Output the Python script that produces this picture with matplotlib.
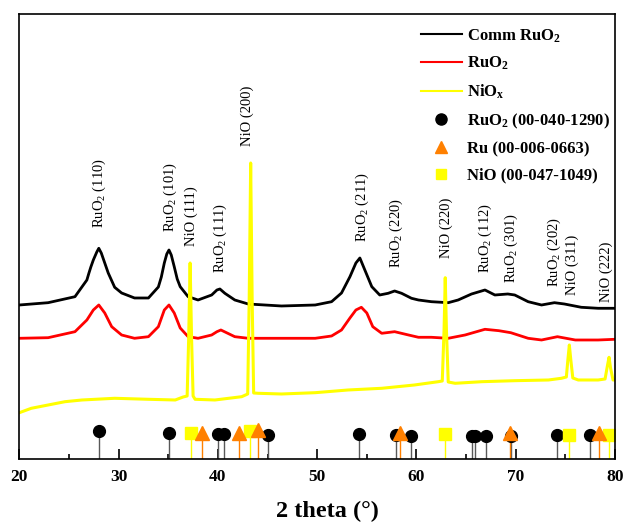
import matplotlib
matplotlib.use("Agg")
import matplotlib.pyplot as plt
from matplotlib.lines import Line2D

plt.rcParams['font.family'] = ['Liberation Serif', 'DejaVu Serif']
plt.rcParams['mathtext.fontset'] = 'custom'
plt.rcParams['mathtext.rm'] = 'Liberation Serif'
plt.rcParams['mathtext.it'] = 'Liberation Serif:italic'
plt.rcParams['mathtext.bf'] = 'Liberation Serif:bold'

# --- measured patterns (2theta, intensity in a.u.) ---
comm_x = [20.0, 22.9, 25.6, 26.8, 27.0, 27.2, 27.45, 27.8, 28.0, 28.25, 28.6, 28.95, 29.6,
          30.3, 31.6, 33.0, 34.0, 34.3, 34.6, 34.85, 35.07, 35.3, 35.6, 35.9, 36.2, 37.0,
          38.0, 39.37, 39.9, 40.2, 40.7, 41.7, 43.05, 46.4, 49.8, 51.45, 52.45, 53.3,
          53.9, 54.3, 54.8, 55.5, 56.3, 57.15, 57.8, 58.5, 59.5, 60.2, 61.5, 63.2, 64.2,
          65.55, 66.9, 67.9, 69.2, 69.9, 71.25, 72.6, 73.9, 74.9, 76.6, 78.3, 80.0]
comm_y = [154, 156.3, 162.3, 179, 185.7, 192, 199, 207, 210.7, 206, 196, 186, 171.7,
          166, 161, 161, 172, 182, 196, 205, 209, 204, 192.3, 180, 172.3, 162.3,
          159, 164, 169, 170, 165.7, 159, 155, 153, 154, 157.3, 166, 182.3,
          196, 201, 189, 172.3, 164, 165.7, 168, 165.7, 160.7, 159, 157.3, 156.3, 159,
          165, 169, 164, 165, 164, 157.3, 154, 156.3, 155, 151.7, 150.7, 150.7]

ruo2_x = [20.0, 22.9, 25.6, 26.8, 27.45, 28.0, 28.6, 29.3, 30.3, 31.6, 33.0, 34.0,
          34.6, 35.07, 35.6, 36.2, 37.0, 38.0, 39.37, 39.9, 40.3, 41.7, 43.05, 46.4,
          49.8, 51.45, 52.45, 53.3, 53.9, 54.45, 55.0, 55.6, 56.5, 57.8, 59.2, 60.2,
          61.5, 63.2, 64.9, 66.9, 68.3, 69.5, 71.25, 72.6, 74.2, 76.0, 78.3, 80.0]
ruo2_y = [120.7, 121.3, 127.3, 139, 149, 154, 146, 132.3, 124, 120.7, 122.3, 132.3,
          149, 154, 146, 131, 122.3, 120.7, 124, 127.3, 129, 122.3, 120.7, 120.7,
          120.7, 123, 129, 141, 149, 151.7, 146, 132.3, 125.7, 127.3, 124, 121.7,
          121.7, 120.7, 124, 129.7, 128.3, 126.3, 120.7, 119, 122.3, 119, 119, 119.7]

niox_x = [20.0, 21.2, 22.9, 24.6, 26.3, 29.6, 33.0, 35.7, 36.5, 36.9, 37.05, 37.2,
          37.35, 37.5, 37.7, 39.7, 42.4, 43.0, 43.15, 43.3, 43.45, 43.6, 44.05, 46.4,
          49.8, 53.1, 56.5, 59.8, 62.2, 62.6, 62.78, 62.9, 63.02, 63.2, 63.9, 66.6,
          69.9, 73.3, 74.6, 75.1, 75.25, 75.4, 75.55, 75.75, 76.3, 78.3, 79.0, 79.25,
          79.4, 79.55, 79.8, 80.0]
niox_y = [46.3, 50.7, 54, 57.3, 59, 60.7, 59.7, 59, 62, 63, 119, 196,
          119, 63, 59.7, 59, 62.3, 65, 159, 296, 159, 66, 65.7, 65,
          66.3, 69, 70.7, 74, 77.3, 78, 129, 181.3, 129, 77, 75.7, 77.3,
          78.3, 79, 80.7, 82, 99, 114, 99, 81, 79, 79, 80, 94,
          101.7, 91, 79, 79]

# --- reference cards (position, stick height) ---
ref_ruo2_pos = [28.0, 35.07, 40.0, 40.6, 45.0, 54.23, 57.93, 59.43, 65.55, 65.88,
                66.99, 69.5, 74.14, 77.5]
ref_ruo2_h = [28, 26, 24.5, 24.5, 23.5, 25, 23.7, 23.3, 23.3, 23.3, 23.3, 23.3, 23.7, 23.7]
ref_ru_pos = [38.4, 42.15, 44.0, 58.33, 69.38, 78.4]
ref_ru_h = [26.3, 26, 29, 25.7, 25.7, 26.3]
ref_nio_pos = [37.28, 43.2, 62.86, 75.4, 79.4]
ref_nio_h = [26, 28, 24.7, 24.3, 24]

# --- peak labels (position, label base height, text) ---
lab_x = [28.1, 35.2, 37.35, 40.2, 43.0, 54.5, 58.0, 63.0, 66.9, 69.6, 73.9, 75.65, 79.15]
lab_y = [231, 227, 213, 186, 313, 217, 191, 201, 186, 176, 172, 164, 157]
lab_txt = [r'RuO$_2$ (110)', r'RuO$_2$ (101)', 'NiO (111)', r'RuO$_2$ (111)', 'NiO (200)',
           r'RuO$_2$ (211)', r'RuO$_2$ (220)', 'NiO (220)', r'RuO$_2$ (112)',
           r'RuO$_2$ (301)', r'RuO$_2$ (202)', 'NiO (311)', 'NiO (222)']

c_ru = '#ff8000'
c_ni = '#ffff00'

fig = plt.figure(figsize=(6.25, 5.26), dpi=100)
ax = fig.add_axes([0.031, 0.1274, 0.953, 0.846])

ax.plot(comm_x, comm_y, color='black', lw=2.0)
ax.plot(ruo2_x, ruo2_y, color='#ff0000', lw=2.0)
ax.plot(niox_x, niox_y, color=c_ni, lw=2.2)

# stick patterns
ax.vlines(ref_ruo2_pos, 0, ref_ruo2_h, color='0.35', lw=1.0)
ax.vlines(ref_nio_pos, 0, ref_nio_h, color=c_ni, lw=1.0)
ax.vlines(ref_ru_pos, 0, ref_ru_h, color=c_ru, lw=1.0)
ax.plot(ref_ruo2_pos, ref_ruo2_h, 'o', color='black', ms=8.5, ls='none')
ax.plot(ref_nio_pos, ref_nio_h, 's', color=c_ni, ms=8.5, ls='none')
ax.plot(ref_ru_pos, ref_ru_h, '^', color=c_ru, ms=9.5, ls='none')

for x, y, t in zip(lab_x, lab_y, lab_txt):
    ax.text(x, y, t, rotation=90, ha='center', va='bottom', fontsize=10.5)

ax.set_xlim(20, 80)
ax.set_ylim(0, 445)
ax.set_yticks([])
ax.set_xticks(range(20, 81, 10))
ax.set_xticks(range(25, 80, 10), minor=True)
ax.tick_params(axis='x', which='major', direction='in', length=7, width=1.2, labelsize=12.5, pad=7)
ax.tick_params(axis='x', which='minor', direction='in', length=3.6, width=1.2)
for lbl in ax.get_xticklabels():
    lbl.set_fontweight('bold')
for sp in ax.spines.values():
    sp.set_linewidth(1.2)
ax.set_xlabel('2 theta (°)', fontsize=17.5, fontweight='bold', labelpad=11)
ax.xaxis.set_label_coords(0.518, -0.095)

handles = [
    Line2D([], [], color='black', lw=1.5),
    Line2D([], [], color='#ff0000', lw=1.5),
    Line2D([], [], color=c_ni, lw=1.5),
    Line2D([], [], marker='o', color='black', ls='none', ms=8),
    Line2D([], [], marker='^', color=c_ru, ls='none', ms=8),
    Line2D([], [], marker='s', color=c_ni, ls='none', ms=7),
]
labels = [r'Comm RuO$_\mathbf{2}$', r'RuO$_\mathbf{2}$', r'NiO$_\mathbf{x}$',
          r'RuO$_\mathbf{2}$ (00-040-1290)', 'Ru (00-006-0663)', 'NiO (00-047-1049)']
leg = ax.legend(handles, labels, loc='upper left', bbox_to_anchor=(0.652, 1.0),
                frameon=False, handlelength=2.45, handletextpad=0.3, labelspacing=0.62,
                prop={'weight': 'bold', 'size': 12}, borderpad=0.3)

fig.savefig('out.png', dpi=100)
